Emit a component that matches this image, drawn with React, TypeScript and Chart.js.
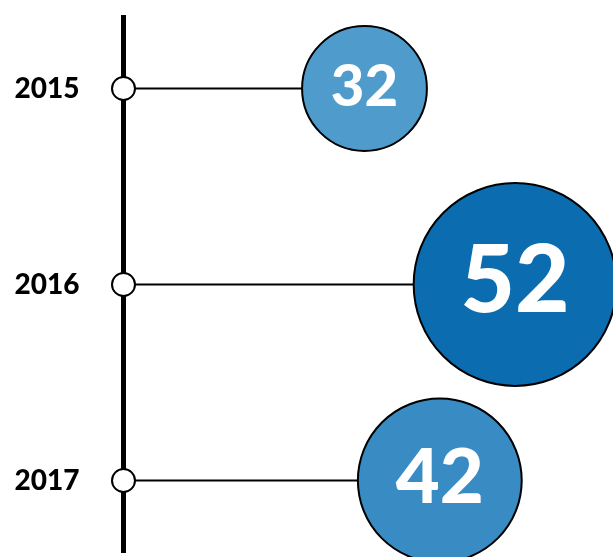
import React, { useEffect, useRef } from "react";
import { Chart, registerables } from "chart.js";

Chart.register(...registerables);

const years = ["2015", "2016", "2017"];
const values = [32, 52, 42];
const bubbleColors = ["#4f9bcb", "#0b6db0", "#388bc3"];

const X_MAX = 65;
const R_PER_UNIT = 0.259; // bubble radius, in x-axis units per value unit

function radiusFor(chart: any, v: number) {
  const xs = chart.scales.x;
  if (!xs) return 0;
  const d = xs.getPixelForValue(v) - xs.getPixelForValue(0);
  return isFinite(d) ? d * R_PER_UNIT : 0;
}

const bubbleLabels = {
  id: "bubbleLabels",
  afterDatasetsDraw(chart: any) {
    const meta = chart.getDatasetMeta(0);
    const ctx = chart.ctx;
    ctx.save();
    meta.data.forEach((el: any, i: number) => {
      const r = radiusFor(chart, values[i]);
      const size = Math.round(r * 0.93);
      ctx.font = `900 ${size}px Lato`;
      ctx.fillStyle = "#ffffff";
      ctx.textAlign = "center";
      ctx.textBaseline = "alphabetic";
      ctx.fillText(String(values[i]), el.x, el.y + r * 0.275);
    });
    ctx.restore();
  },
};

export default function App() {
  const ref = useRef<HTMLCanvasElement>(null);

  useEffect(() => {
    if (!ref.current) return;
    const connectorSets = values.map((v, i) => ({
      type: "line" as const,
      data: [
        { x: 0, y: i },
        { x: v, y: i },
      ],
      borderColor: "#000000",
      borderWidth: 2,
      pointRadius: 0,
      fill: false,
      order: 3,
      clip: false,
    }));
    const chart = new Chart(ref.current, {
      type: "scatter",
      data: {
        datasets: [
          {
            type: "scatter",
            data: values.map((v, i) => ({ x: v, y: i })),
            backgroundColor: bubbleColors,
            borderColor: "#000000",
            borderWidth: 2,
            pointRadius: (c: any) => radiusFor(c.chart, values[c.dataIndex]),
            pointHoverRadius: (c: any) => radiusFor(c.chart, values[c.dataIndex]),
            order: 2,
            clip: false,
          } as any,
          {
            type: "scatter",
            data: values.map((_, i) => ({ x: 0, y: i })),
            backgroundColor: "#ffffff",
            borderColor: "#000000",
            borderWidth: 2,
            pointRadius: 11.5,
            pointHoverRadius: 11.5,
            order: 1,
            clip: false,
          } as any,
          ...(connectorSets as any[]),
        ],
      },
      options: {
        animation: false,
        responsive: false,
        maintainAspectRatio: false,
        layout: { autoPadding: false, padding: { top: 17, bottom: 5, left: 0, right: 0 } },
        plugins: {
          legend: { display: false },
          tooltip: { enabled: false },
        },
        scales: {
          x: {
            type: "linear",
            min: 0,
            max: X_MAX,
            display: false,
          },
          y: {
            type: "linear",
            reverse: true,
            min: -0.365,
            max: 2.365,
            grid: { display: false, drawTicks: false },
            border: { display: true, color: "#000000", width: 5 },
            afterFit: (scale: any) => {
              scale.width = 123.5;
              scale.paddingTop = 0;
              scale.paddingBottom = 0;
            },
            afterBuildTicks: (scale: any) => {
              scale.ticks = years.map((_, i) => ({ value: i }));
            },
            ticks: {
              padding: 44,
              color: "#000000",
              font: { family: "Lato", weight: 900, size: 28 },
              callback: (v: any) => years[Number(v)] ?? "",
            },
          },
        },
      } as any,
      plugins: [bubbleLabels],
    });
    return () => chart.destroy();
  }, []);

  return (
    <div style={{ position: "absolute", left: 0, top: 0, width: 613, height: 557, background: "#ffffff" }}>
      <canvas ref={ref} width={613} height={557} style={{ display: "block" }} />
    </div>
  );
}
